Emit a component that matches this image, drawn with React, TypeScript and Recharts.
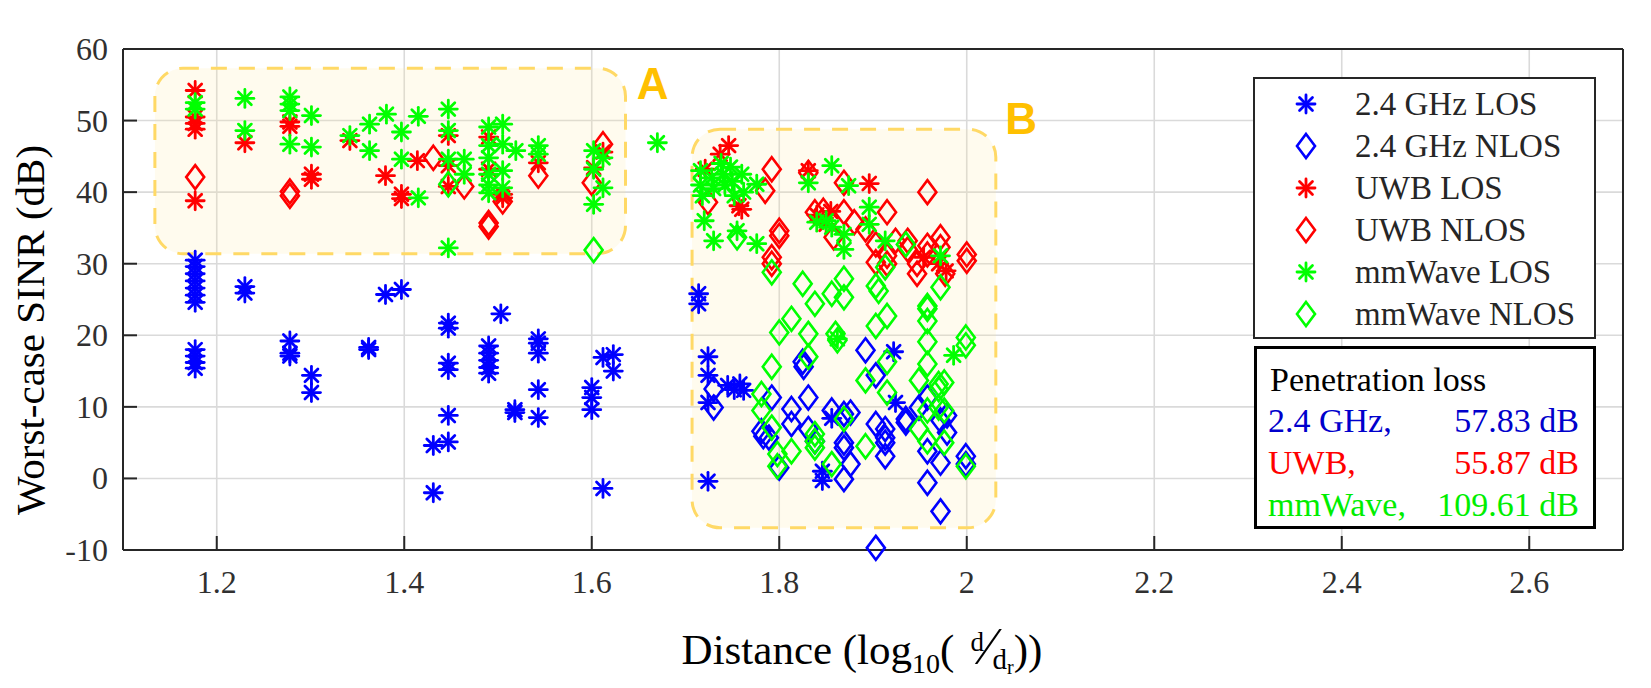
import React from "react";
import {
  ScatterChart,
  Scatter,
  XAxis,
  YAxis,
  CartesianGrid,
  ReferenceArea,
  ReferenceDot,
} from "recharts";

// tick values
const xTicks = [1.2, 1.4, 1.6, 1.8, 2, 2.2, 2.4, 2.6];
const yTicks = [-10, 0, 10, 20, 30, 40, 50, 60];

// [distance, SINR]
const los24: [number, number][] = [
  [1.177, 30.5], [1.177, 29.6], [1.177, 28.6], [1.177, 27.6], [1.177, 26.6], [1.177, 25.6], [1.177, 24.6],
  [1.177, 18.0], [1.177, 17.1], [1.177, 16.2], [1.177, 15.4],
  [1.23, 26.8], [1.23, 25.9], [1.278, 19.2], [1.278, 17.5], [1.278, 17.1],
  [1.301, 14.4], [1.301, 12.0], [1.362, 18.3], [1.362, 18.0], [1.38, 25.7], [1.397, 26.4],
  [1.447, 21.7], [1.447, 21.0], [1.447, 16.1], [1.447, 15.2], [1.447, 8.8], [1.447, 5.1],
  [1.431, 4.6], [1.431, -2.0],
  [1.49, 18.5], [1.49, 17.5], [1.49, 16.5], [1.49, 15.5], [1.49, 14.7], [1.503, 23.0],
  [1.518, 9.6], [1.518, 9.2], [1.543, 19.5], [1.543, 18.9], [1.543, 17.5], [1.543, 12.4], [1.543, 8.5],
  [1.6, 12.7], [1.6, 11.3], [1.6, 9.6], [1.612, 16.9], [1.612, -1.4], [1.623, 17.3], [1.623, 15.0],
  [1.714, 25.8], [1.714, 24.4], [1.724, 17.0], [1.724, 14.4], [1.724, 10.6], [1.724, -0.4],
  [1.745, 13.0], [1.752, 12.4], [1.758, 13.2], [1.762, 12.3],
  [1.846, 1.0], [1.846, -0.3], [1.856, 8.4], [1.922, 17.7], [1.924, 10.6],
];

const nlos24: [number, number][] = [
  [1.73, 12.5], [1.73, 9.9], [1.781, 6.6], [1.783, 5.9], [1.792, 11.3], [1.789, 5.7], [1.8, 1.5],
  [1.813, 9.7], [1.813, 7.6], [1.825, 16.3], [1.826, 15.6], [1.831, 11.3], [1.831, 6.9], [1.838, 5.2],
  [1.856, 9.5], [1.869, 9.0], [1.869, 5.0], [1.869, 4.3], [1.876, 9.2], [1.876, 2.0], [1.869, -0.1],
  [1.892, 17.9], [1.903, 14.4], [1.903, 7.6], [1.903, -9.7], [1.913, 6.9], [1.913, 5.7], [1.913, 5.0],
  [1.913, 3.1], [1.935, 8.3], [1.935, 7.8], [1.949, 9.9], [1.958, 11.3], [1.958, 3.8], [1.958, -0.6],
  [1.972, 8.1], [1.972, 2.2], [1.972, -4.6], [1.979, 8.8], [1.979, 6.4], [1.999, 3.1], [1.999, 2.0],
];

const losUwb: [number, number][] = [
  [1.177, 54.2], [1.177, 50.5], [1.177, 49.6], [1.177, 48.8], [1.177, 38.8],
  [1.23, 46.9], [1.278, 49.8], [1.278, 49.2], [1.301, 42.5], [1.301, 41.8],
  [1.342, 47.2], [1.38, 42.3], [1.397, 39.7], [1.397, 39.1], [1.414, 44.4],
  [1.447, 47.9], [1.447, 43.7], [1.447, 40.8], [1.49, 47.7], [1.49, 43.2],
  [1.505, 39.7], [1.505, 39.2], [1.543, 44.1], [1.602, 43.4], [1.612, 45.6],
  [1.746, 46.5], [1.721, 43.2], [1.737, 45.3], [1.757, 38.1], [1.76, 37.6],
  [1.831, 43.0], [1.896, 41.2], [1.84, 36.8], [1.85, 35.5], [1.855, 37.3],
  [1.978, 29.0], [1.97, 30.0], [1.954, 30.9],
];

const nlosUwb: [number, number][] = [
  [1.177, 42.1], [1.278, 40.1], [1.278, 39.5], [1.431, 44.8], [1.464, 40.8], [1.49, 35.7], [1.49, 35.2],
  [1.505, 38.7], [1.543, 42.3], [1.612, 46.7], [1.6, 41.3],
  [1.792, 43.2], [1.785, 40.2], [1.724, 38.6], [1.831, 42.7], [1.869, 41.3], [1.958, 40.0],
  [1.8, 34.6], [1.8, 33.9], [1.792, 30.9], [1.792, 30.0], [1.838, 37.2], [1.847, 37.4], [1.869, 37.2],
  [1.88, 35.8], [1.892, 34.8], [1.915, 37.2], [1.903, 32.7], [1.903, 30.2], [1.915, 31.1], [1.915, 30.0],
  [1.924, 33.2], [1.937, 33.2], [1.937, 32.0], [1.947, 30.0], [1.947, 28.6], [1.958, 32.5], [1.958, 31.3],
  [1.972, 33.7], [1.972, 32.3], [1.977, 28.6], [2.0, 31.3], [2.0, 30.4], [1.858, 33.7],
];

const losMm: [number, number][] = [
  [1.177, 52.5], [1.177, 51.6], [1.23, 53.1], [1.23, 48.6], [1.278, 53.3], [1.278, 52.3], [1.278, 51.4],
  [1.278, 46.7], [1.301, 50.7], [1.301, 46.3], [1.342, 47.9], [1.363, 49.5], [1.363, 45.8], [1.381, 50.9],
  [1.397, 48.4], [1.397, 44.6], [1.415, 50.6], [1.415, 39.2], [1.447, 51.6], [1.447, 48.6], [1.447, 44.6],
  [1.447, 32.2], [1.464, 44.6], [1.464, 42.5], [1.49, 49.1], [1.49, 46.5], [1.49, 44.8], [1.49, 42.5],
  [1.49, 41.0], [1.49, 39.9], [1.505, 49.5], [1.505, 46.7], [1.505, 43.0], [1.505, 40.6], [1.519, 45.8],
  [1.543, 46.5], [1.543, 45.3], [1.602, 45.8], [1.602, 43.2], [1.602, 38.3], [1.612, 44.8], [1.612, 40.6],
  [1.67, 46.9],
  [1.716, 43.0], [1.716, 41.0], [1.718, 39.5], [1.72, 36.0], [1.728, 42.0], [1.73, 40.5], [1.738, 44.0],
  [1.74, 42.5], [1.742, 41.0], [1.748, 43.5], [1.75, 41.5], [1.752, 39.5], [1.76, 42.5], [1.762, 40.0],
  [1.776, 41.1], [1.73, 33.2], [1.755, 34.6], [1.776, 32.8], [1.831, 41.3], [1.856, 43.7], [1.874, 40.9],
  [1.84, 35.8], [1.85, 36.0], [1.856, 35.1], [1.869, 34.1], [1.869, 32.0], [1.896, 37.9], [1.896, 35.5],
  [1.913, 33.2], [1.972, 31.1], [1.862, 19.5], [1.986, 17.2],
];

const nlosMm: [number, number][] = [
  [1.447, 41.1], [1.602, 31.9], [1.755, 33.7], [1.792, 28.8], [1.825, 27.2], [1.838, 24.4], [1.856, 25.8],
  [1.869, 27.9], [1.869, 25.3], [1.903, 26.9], [1.906, 26.2], [1.913, 29.5], [1.935, 32.7], [1.972, 26.7],
  [1.958, 24.1], [1.958, 22.0], [1.813, 22.3], [1.8, 20.4], [1.831, 20.2], [1.86, 20.2], [1.903, 21.3],
  [1.915, 22.7], [1.999, 19.7], [1.792, 15.6], [1.781, 11.8], [1.781, 9.5], [1.831, 17.0], [1.792, 7.1],
  [1.798, 3.4], [1.798, 1.7], [1.813, 3.8], [1.838, 6.2], [1.838, 5.2], [1.838, 4.3], [1.862, 19.3],
  [1.869, 8.3], [1.856, 2.0], [1.892, 13.7], [1.892, 4.5], [1.915, 16.3], [1.915, 12.0], [1.949, 13.7],
  [1.949, 6.9], [1.958, 23.7], [1.958, 19.1], [1.958, 16.0], [1.958, 9.5], [1.958, 5.2], [1.97, 13.2],
  [1.97, 12.5], [1.97, 9.9], [1.976, 13.4], [1.976, 9.5], [1.976, 5.0], [1.999, 18.6], [1.999, 1.7],
];

// penetration loss text box
const lossRows = [
  { band: "2.4 GHz,", loss: "57.83 dB", color: "#0000cc" },
  { band: "UWB,", loss: "55.87 dB", color: "#ff0000" },
  { band: "mmWave,", loss: "109.61 dB", color: "#00ee00" },
];

const BLUE = "#0000ff";
const RED = "#ff0000";
const GREEN = "#00ff00";
const AXIS = "#262626";
const SERIF = "Liberation Serif, Times New Roman, serif";
const serifStyle = { fontFamily: SERIF };

const toPoints = (rows: [number, number][]) => rows.map(([x, y]) => ({ x, y }));

const Star = ({ cx, cy, color, r = 9 }: { cx: number; cy: number; color: string; r?: number }) => {
  const d = r * 0.72;
  return (
    <g stroke={color} strokeWidth={2.8} strokeLinecap="round">
      <line x1={cx - r} y1={cy} x2={cx + r} y2={cy} />
      <line x1={cx} y1={cy - r} x2={cx} y2={cy + r} />
      <line x1={cx - d} y1={cy - d} x2={cx + d} y2={cy + d} />
      <line x1={cx - d} y1={cy + d} x2={cx + d} y2={cy - d} />
    </g>
  );
};

const Diamond = ({ cx, cy, color }: { cx: number; cy: number; color: string }) => (
  <polygon
    points={`${cx},${cy - 12} ${cx + 9},${cy} ${cx},${cy + 12} ${cx - 9},${cy}`}
    fill="none"
    stroke={color}
    strokeWidth={2.6}
  />
);

const series = [
  { name: "2.4 GHz LOS", data: los24, color: BLUE, Marker: Star },
  { name: "2.4 GHz NLOS", data: nlos24, color: BLUE, Marker: Diamond },
  { name: "UWB LOS", data: losUwb, color: RED, Marker: Star },
  { name: "UWB NLOS", data: nlosUwb, color: RED, Marker: Diamond },
  { name: "mmWave LOS", data: losMm, color: GREEN, Marker: Star },
  { name: "mmWave NLOS", data: nlosMm, color: GREEN, Marker: Diamond },
];

const Zone = (props: any) => (
  <rect
    x={props.x}
    y={props.y}
    width={props.width}
    height={props.height}
    rx={28}
    ry={28}
    fill="#ffe7a0"
    fillOpacity={0.18}
    stroke="#ffd966"
    strokeWidth={3}
    strokeDasharray="16 12"
  />
);

const ZoneLetter = (letter: string) => (props: any) => (
  <text
    x={props.cx}
    y={props.cy}
    textAnchor="middle"
    dominantBaseline="central"
    style={{ fontFamily: "Liberation Sans, Arial, sans-serif" }}
    fontWeight="bold"
    fontSize={44}
    fill="#ffc000"
  >
    {letter}
  </text>
);

const BottomTick = (p: any) => (
  <g>
    <line x1={p.x} x2={p.x} y1={p.y} y2={p.y - 14} stroke={AXIS} strokeWidth={2} />
    <text x={p.x} y={p.y + 32} textAnchor="middle" dominantBaseline="central" style={serifStyle} fontSize={32} fill="#303030">
      {p.payload.value}
    </text>
  </g>
);

const TopTick = (p: any) => (
  <line x1={p.x} x2={p.x} y1={p.y} y2={p.y + 14} stroke={AXIS} strokeWidth={2} />
);

const LeftTick = (p: any) => (
  <g>
    <line x1={p.x} x2={p.x + 14} y1={p.y} y2={p.y} stroke={AXIS} strokeWidth={2} />
    <text x={p.x - 15} y={p.y} textAnchor="end" dominantBaseline="central" style={serifStyle} fontSize={32} fill="#303030">
      {p.payload.value}
    </text>
  </g>
);

const RightTick = (p: any) => (
  <line x1={p.x} x2={p.x - 14} y1={p.y} y2={p.y} stroke={AXIS} strokeWidth={2} />
);

const XTitle = () => (
  <text x={862} y={664} textAnchor="middle" style={serifStyle} fontSize={43} fill="#000">
    Distance (log
    <tspan fontSize={28} dy={9}>10</tspan>
    <tspan dy={-9}>(</tspan>
    <tspan fontSize={27} dx={16} dy={-13}>d</tspan>
    <tspan fontSize={52} dy={13}>⁄</tspan>
    <tspan fontSize={29} dy={5}>d</tspan>
    <tspan fontSize={20} dy={5}>r</tspan>
    <tspan dy={-10}>))</tspan>
  </text>
);

const YTitle = () => (
  <text
    x={30}
    y={330}
    transform="rotate(-90 30 330)"
    textAnchor="middle"
    dominantBaseline="central"
    style={serifStyle}
    fontSize={41}
    fill="#000"
  >
    Worst-case SINR (dB)
  </text>
);

const LegendBox = () => (
  <div
    style={{
      position: "absolute",
      left: 1253,
      top: 77,
      width: 339,
      height: 258,
      border: `2px solid ${AXIS}`,
      background: "#fff",
      fontFamily: SERIF,
      fontSize: 33,
      color: AXIS,
    }}
  >
    {series.map((s, i) => (
      <div key={s.name} style={{ position: "absolute", left: 0, top: 4 + i * 42, height: 42, display: "flex", alignItems: "center" }}>
        <svg width={100} height={42} style={{ display: "block" }}>
          <s.Marker cx={51} cy={21} color={s.color} />
        </svg>
        <span style={{ whiteSpace: "nowrap" }}>{s.name}</span>
      </div>
    ))}
  </div>
);

const LossBox = () => (
  <div
    style={{
      position: "absolute",
      left: 1254,
      top: 346,
      width: 336,
      height: 177,
      border: "3px solid #000",
      background: "#fff",
      fontFamily: SERIF,
      fontSize: 34,
    }}
  >
    <div style={{ position: "absolute", left: 13, top: 10, lineHeight: "42px", whiteSpace: "nowrap", color: "#000" }}>
      Penetration loss
    </div>
    {lossRows.map((r, i) => (
      <div
        key={r.band}
        style={{
          position: "absolute",
          left: 11,
          right: 14,
          top: 51 + i * 42,
          lineHeight: "42px",
          display: "flex",
          justifyContent: "space-between",
          color: r.color,
          whiteSpace: "nowrap",
        }}
      >
        <span>{r.band}</span>
        <span>{r.loss}</span>
      </div>
    ))}
  </div>
);

export default function App() {
  return (
    <div style={{ position: "absolute", left: 0, top: 0, width: 1651, height: 688, background: "#fff", fontFamily: SERIF }}>
      <ScatterChart width={1651} height={688} margin={{ top: 48, right: 27, bottom: 137, left: 122 }}>
        <CartesianGrid stroke="#dadada" strokeWidth={1.6} />
        <XAxis
          type="number"
          dataKey="x"
          domain={[1.1, 2.7]}
          ticks={xTicks}
          height={1}
          tickSize={0}
          tickMargin={0}
          tickLine={false}
          tick={BottomTick}
          axisLine={{ stroke: AXIS, strokeWidth: 2 }}
          label={{ content: XTitle }}
        />
        <XAxis
          xAxisId="top"
          orientation="top"
          type="number"
          domain={[1.1, 2.7]}
          ticks={xTicks}
          height={1}
          tickSize={0}
          tickMargin={0}
          tickLine={false}
          tick={TopTick}
          axisLine={{ stroke: AXIS, strokeWidth: 2 }}
        />
        <YAxis
          type="number"
          dataKey="y"
          domain={[-10, 60]}
          ticks={yTicks}
          width={1}
          tickSize={0}
          tickMargin={0}
          tickLine={false}
          tick={LeftTick}
          axisLine={{ stroke: AXIS, strokeWidth: 2 }}
          label={{ content: YTitle }}
        />
        <YAxis
          yAxisId="right"
          orientation="right"
          type="number"
          domain={[-10, 60]}
          ticks={yTicks}
          width={1}
          tickSize={0}
          tickMargin={0}
          tickLine={false}
          tick={RightTick}
          axisLine={{ stroke: AXIS, strokeWidth: 2 }}
        />
        <ReferenceArea x1={1.134} x2={1.636} y1={31.4} y2={57.3} shape={Zone} />
        <ReferenceArea x1={1.707} x2={2.031} y1={-6.9} y2={48.8} shape={Zone} />
        <ReferenceDot x={1.665} y={55.2} r={0} shape={ZoneLetter("A")} />
        <ReferenceDot x={2.058} y={50.3} r={0} shape={ZoneLetter("B")} />
        {series.map((s) => (
          <Scatter
            key={s.name}
            name={s.name}
            data={toPoints(s.data)}
            fill={s.color}
            isAnimationActive={false}
            shape={(p: any) => <s.Marker cx={p.cx} cy={p.cy} color={s.color} />}
          />
        ))}
      </ScatterChart>
      <LegendBox />
      <LossBox />
    </div>
  );
}
